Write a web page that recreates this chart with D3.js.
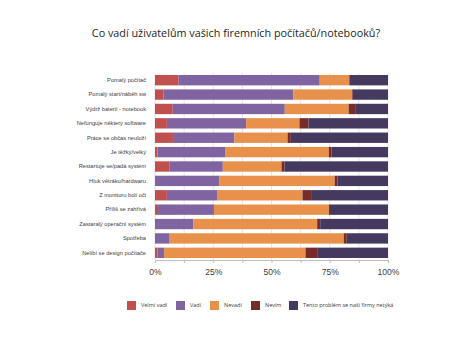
<!DOCTYPE html>
<html>
<head>
<meta charset="utf-8">
<script src="https://cdn.jsdelivr.net/npm/d3@7"></script>
<style>
  body { margin: 0; background: #fff; }
  svg { font-family: "Open Sans", sans-serif; }
</style>
</head>
<body>
<div id="chart"></div>
<script>
var categories = [
    "Pomalý počítač",
    "Pomalý start/náběh sw",
    "Výdrž baterií - notebook",
    "Nefunguje některý software",
    "Práce se občas neuloží",
    "Je těžký/velký",
    "Restartuje se/padá systém",
    "Hluk větráku/hardwaru",
    "Z monitoru bolí oči",
    "Příliš se zahřívá",
    "Zastaralý operační systém",
    "Spotřeba",
    "Nelíbí se design počítače"
];

var seriesNames = ["Velmi vadí", "Vadí", "Nevadí", "Nevím", "Tento problém se naší firmy netýká"];

var velmiVadi = [10.1, 3.7, 7.6, 5.1, 7.7, 1.1, 6.3, 0, 5.1, 1.3, 0, 0, 1.1];
var vadi      = [60.6, 55.7, 48.1, 34.0, 26.4, 29.2, 22.8, 27.7, 21.5, 24.0, 16.4, 6.3, 2.8];
var nevadi    = [12.7, 25.2, 27.4, 22.9, 22.8, 44.3, 25.2, 49.4, 36.7, 49.4, 53.2, 74.7, 60.7];
var nevim     = [0, 0.3, 2.8, 3.9, 1.4, 1.1, 1.3, 1.2, 3.7, 0, 1.3, 1.3, 5.0];
var netyka    = [16.6, 15.1, 14.1, 34.1, 41.7, 24.3, 44.4, 21.7, 33.0, 25.3, 29.1, 17.7, 30.4];

var tickValues = [0, 0.25, 0.5, 0.75, 1];
var tickLabels = ["0%", "25%", "50%", "75%", "100%"];

var colors = ["#c0504d", "#8064a2", "#e8914a", "#772c2a", "#45395f"];

function init() {
    var w = 472, h = 354;
    var left = 155, right = 388, top = 73, bottom = 260;

    var dataset = categories.map(function(c, i) {
        var row = { name: c };
        var vals = [velmiVadi[i], vadi[i], nevadi[i], nevim[i], netyka[i]];
        var total = d3.sum(vals);
        seriesNames.forEach(function(s, j) { row[s] = vals[j] / total; });
        return row;
    });

    var series = d3.stack().keys(seriesNames)(dataset);

    var svg = d3.select("#chart").append("svg")
        .attr("width", w)
        .attr("height", h);

    var x = d3.scaleLinear().domain([0, 1]).range([left, right]);
    var y = d3.scaleBand()
        .domain(categories)
        .range([top, bottom])
        .paddingInner(0.28)
        .paddingOuter(0.14);

    // gridlines every 12.5%
    svg.append("g")
        .selectAll("line")
        .data(d3.range(0, 1.0001, 0.125))
        .enter().append("line")
        .attr("x1", function(d) { return x(d); })
        .attr("x2", function(d) { return x(d); })
        .attr("y1", top)
        .attr("y2", bottom)
        .attr("stroke", "#d9d9d9")
        .attr("stroke-width", 0.7);

    var groups = svg.selectAll("g.series")
        .data(series)
        .enter().append("g")
        .attr("class", "series")
        .style("fill", function(d, i) { return colors[i]; });

    groups.selectAll("rect")
        .data(function(d) { return d; })
        .enter().append("rect")
        .attr("x", function(d) { return x(d[0]); })
        .attr("y", function(d) { return y(d.data.name); })
        .attr("width", function(d) { return x(d[1]) - x(d[0]); })
        .attr("height", y.bandwidth());

    // category labels
    var yAxis = d3.axisLeft(y).tickSize(0).tickPadding(9);
    var ya = svg.append("g")
        .attr("transform", "translate(" + left + ",0)")
        .call(yAxis);
    ya.select(".domain").remove();
    ya.selectAll("text")
        .style("font-size", "5.7px")
        .style("fill", "#404040");

    // x axis
    var xAxis = d3.axisBottom(x)
        .tickValues(d3.range(0, 1.0001, 0.125))
        .tickSize(3)
        .tickFormat(function(d) {
            var k = tickValues.indexOf(d);
            return k >= 0 ? tickLabels[k] : "";
        });
    var xa = svg.append("g")
        .attr("transform", "translate(0," + bottom + ")")
        .call(xAxis);
    xa.select(".domain").attr("stroke", "#bfbfbf");
    xa.selectAll(".tick line").attr("stroke", "#bfbfbf");
    xa.selectAll("text")
        .attr("dy", "1.05em")
        .style("font-size", "8.6px")
        .style("fill", "#404040");

    // title
    svg.append("text")
        .attr("x", 236)
        .attr("y", 37)
        .attr("text-anchor", "middle")
        .style("font-size", "10.8px")
        .style("fill", "#262626")
        .text("Co vadí uživatelům vašich firemních počítačů/notebooků?");

    // legend
    var legendX = [127, 176, 210, 251, 289];
    var legend = svg.selectAll("g.legend")
        .data(seriesNames)
        .enter().append("g")
        .attr("class", "legend")
        .attr("transform", function(d, i) { return "translate(" + legendX[i] + ",301)"; });
    legend.append("rect")
        .attr("width", 9)
        .attr("height", 9)
        .style("fill", function(d, i) { return colors[i]; });
    legend.append("text")
        .attr("x", 14)
        .attr("y", 4.5)
        .attr("dy", "0.35em")
        .style("font-size", "5.5px")
        .style("fill", "#404040")
        .text(function(d) { return d; });
}

window.onload = init;
</script>
</body>
</html>
